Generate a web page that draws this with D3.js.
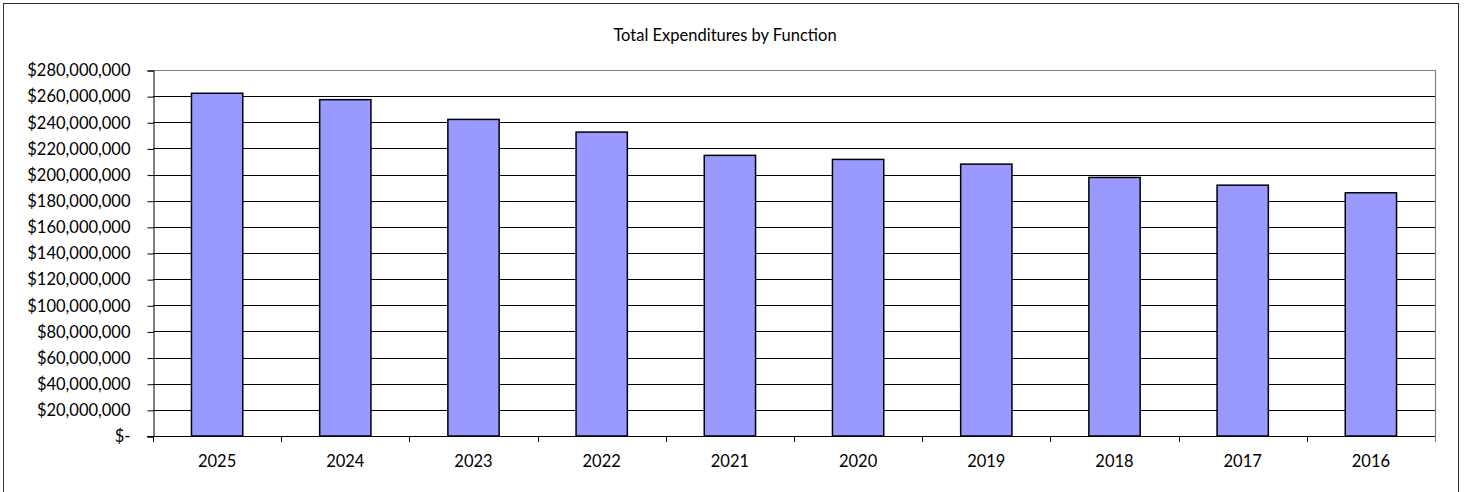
<!DOCTYPE html>
<html>
<head>
<meta charset="utf-8">
<script src="https://cdn.jsdelivr.net/npm/d3@7"></script>
<style>
  body { margin: 0; background: #fff; }
  text { font-family: Lato, "Open Sans", sans-serif; fill: #000; }
</style>
</head>
<body>
<div id="chart"></div>
<script>
var years = ['2025', '2024', '2023', '2022', '2021', '2020', '2019', '2018', '2017', '2016'];
var totals = [262200000, 257300000, 242200000, 232500000, 214700000, 211600000, 208000000, 197800000, 191900000, 186100000];
var yTicks = [0, 20000000, 40000000, 60000000, 80000000, 100000000, 120000000, 140000000,
              160000000, 180000000, 200000000, 220000000, 240000000, 260000000, 280000000];
var title = 'Total Expenditures by Function';

var width = 1468, height = 492;
// plot area edges
var plotLeft = 153, plotRight = 1435, plotTop = 70, plotBottom = 436;

var svg = d3.select('#chart')
  .append('svg')
  .attr('width', width)
  .attr('height', height);

// outer chart frame (bottom edge sits below the window)
svg.append('rect')
  .attr('x', 3.5).attr('y', 3.5)
  .attr('width', 1455).attr('height', 500)
  .attr('fill', '#fff')
  .attr('stroke', '#333')
  .attr('stroke-width', 1);

svg.append('text')
  .attr('x', 725)
  .attr('y', 41)
  .attr('text-anchor', 'middle')
  .style('font-size', '16.5px')
  .text(title);

var x = d3.scaleBand()
  .domain(years)
  .range([plotLeft, plotRight])
  .paddingInner(0.6)
  .paddingOuter(0.3);

var xEdges = d3.scaleLinear()
  .domain([0, years.length])
  .range([plotLeft, plotRight]);

var y = d3.scaleLinear()
  .domain([0, 280000000])
  .range([plotBottom, plotTop]);

// gridlines
svg.append('g')
  .selectAll('line')
  .data(yTicks.slice(1, -1))
  .enter()
  .append('line')
  .attr('x1', plotLeft).attr('x2', plotRight)
  .attr('y1', function(d) { return Math.round(y(d)) + 0.5; })
  .attr('y2', function(d) { return Math.round(y(d)) + 0.5; })
  .attr('stroke', '#000')
  .attr('stroke-width', 1);

// plot area border (top and right, grey)
svg.append('path')
  .attr('d', 'M' + plotLeft + ',' + (plotTop + 0.5) + 'H' + (plotRight + 0.5) + 'V' + plotBottom)
  .attr('fill', 'none')
  .attr('stroke', '#808080')
  .attr('stroke-width', 1.2);

// bars
svg.append('g')
  .selectAll('rect')
  .data(totals)
  .enter()
  .append('rect')
  .attr('x', function(d, i) { return x(years[i]); })
  .attr('y', function(d) { return y(d); })
  .attr('width', x.bandwidth())
  .attr('height', function(d) { return plotBottom - y(d); })
  .attr('fill', '#9999ff')
  .attr('stroke', '#000')
  .attr('stroke-width', 1.5);

// y axis
var fmt = d3.format(',');
var yAxis = d3.axisLeft(y)
  .tickValues(yTicks)
  .tickSize(6)
  .tickPadding(17)
  .tickFormat(function(d) { return d === 0 ? '$-' : '$' + fmt(d); });

var gy = svg.append('g')
  .attr('transform', 'translate(' + (plotLeft + 0.5) + ',0.5)')
  .call(yAxis);
gy.select('.domain').attr('stroke', '#000');
gy.selectAll('.tick line').attr('stroke', '#000');
gy.selectAll('text').style('font-size', '16.5px').style('font-family', 'Lato, sans-serif');

// x axis line and ticks at category edges
svg.append('line')
  .attr('x1', plotLeft - 6).attr('x2', plotRight + 0.5)
  .attr('y1', plotBottom + 0.5).attr('y2', plotBottom + 0.5)
  .attr('stroke', '#000');

svg.append('g')
  .selectAll('line')
  .data(d3.range(years.length + 1))
  .enter()
  .append('line')
  .attr('x1', function(d) { return Math.round(xEdges(d)) + 0.5; })
  .attr('x2', function(d) { return Math.round(xEdges(d)) + 0.5; })
  .attr('y1', plotBottom).attr('y2', plotBottom + 6)
  .attr('stroke', function(d) { return d === years.length ? '#808080' : '#000'; });

svg.append('g')
  .selectAll('text')
  .data(years)
  .enter()
  .append('text')
  .attr('x', function(d) { return x(d) + x.bandwidth() / 2; })
  .attr('y', 467)
  .attr('text-anchor', 'middle')
  .style('font-size', '16.5px')
  .text(function(d) { return d; });
</script>
</body>
</html>
